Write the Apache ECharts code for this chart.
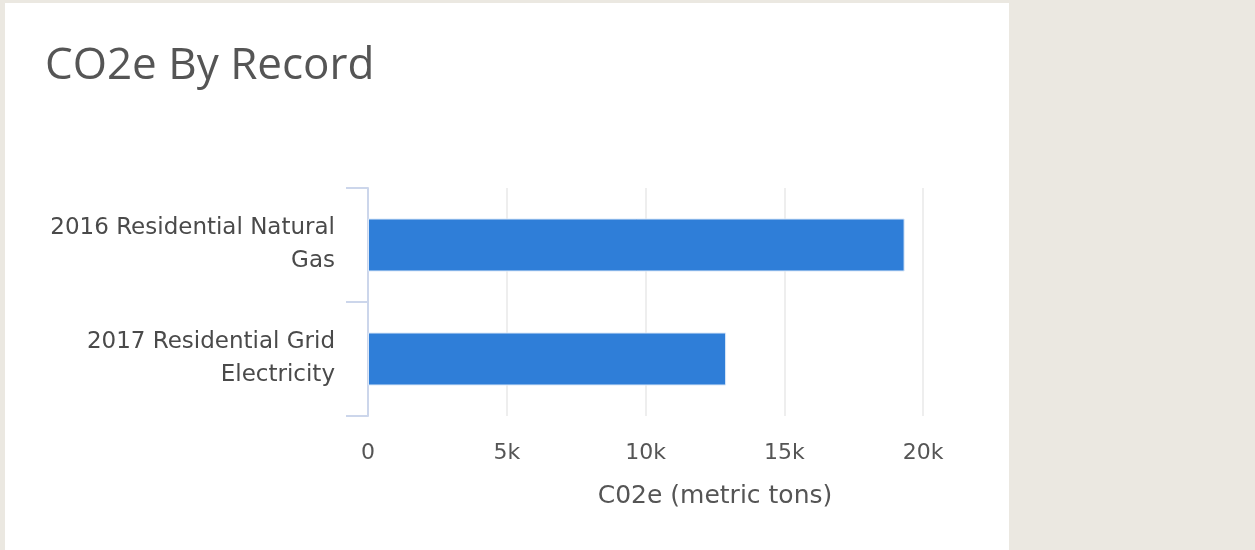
<!DOCTYPE html>
<html>
<head>
<meta charset="utf-8">
<title>CO2e By Record</title>
<script src="https://cdn.jsdelivr.net/npm/echarts@6/dist/echarts.min.js"></script>
<style>
  html, body { margin: 0; padding: 0; background: #ebe8e1; }
  #chart { width: 1255px; height: 550px; }
</style>
</head>
<body>
<div id="chart"></div>
<script>
// Records (top to bottom) and their emissions in metric tons of CO2e
const categories = ['2016 Residential Natural\nGas', '2017 Residential Grid\nElectricity'];
const co2eValues = [19330, 12900];
const tickValues = [0, 5000, 10000, 15000, 20000, 25000];
const tickLabels = ['0', '5k', '10k', '15k', '20k', '25k'];

const chart = echarts.init(document.getElementById('chart'), null, { renderer: 'canvas' });

const labelFont = '"DejaVu Sans", Verdana, sans-serif';

chart.setOption({
  backgroundColor: 'transparent',
  animation: false,
  title: {
    text: 'CO2e By Record',
    left: 40,
    top: 39,
    textStyle: {
      fontFamily: '"Open Sans", sans-serif',
      fontSize: 44,
      fontWeight: 'normal',
      color: '#555555'
    }
  },
  graphic: [
    // white card behind the chart
    { type: 'rect', z: -10, silent: true, shape: { x: 5, y: 3, width: 1004, height: 547 }, style: { fill: '#ffffff' } },
    // side panel covering the right part of the card
    { type: 'rect', z: 100, silent: true, shape: { x: 1009, y: 0, width: 246, height: 550 }, style: { fill: '#ebe8e1' } }
  ],
  grid: { left: 368, right: 193, top: 188, bottom: 134, containLabel: false },
  xAxis: {
    type: 'value',
    min: tickValues[0],
    max: tickValues[tickValues.length - 1],
    interval: tickValues[1] - tickValues[0],
    name: 'C02e (metric tons)',
    nameLocation: 'middle',
    nameGap: 68,
    nameTextStyle: { fontFamily: labelFont, fontSize: 25, color: '#555555' },
    axisLine: { show: false },
    axisTick: { show: false },
    axisLabel: {
      margin: 26,
      fontFamily: labelFont,
      fontSize: 22,
      color: '#555555',
      formatter: function (v) {
        const i = tickValues.indexOf(v);
        return i >= 0 ? tickLabels[i] : '';
      }
    },
    splitLine: { show: true, lineStyle: { color: '#eeeeee', width: 2 } }
  },
  yAxis: {
    type: 'category',
    data: categories,
    inverse: true,
    axisLine: { show: true, lineStyle: { color: '#ccd6eb', width: 2 } },
    axisTick: { show: true, length: 22, lineStyle: { color: '#ccd6eb', width: 2 } },
    axisLabel: {
      margin: 33,
      fontFamily: labelFont,
      fontSize: 23,
      lineHeight: 33,
      color: '#4a4a4a',
      align: 'right'
    },
    splitLine: { show: false }
  },
  series: [{
    type: 'bar',
    data: co2eValues,
    barWidth: 53,
    itemStyle: { color: '#2f7ed8', borderColor: '#dbe8f8', borderWidth: 1 }
  }]
});
</script>
</body>
</html>
